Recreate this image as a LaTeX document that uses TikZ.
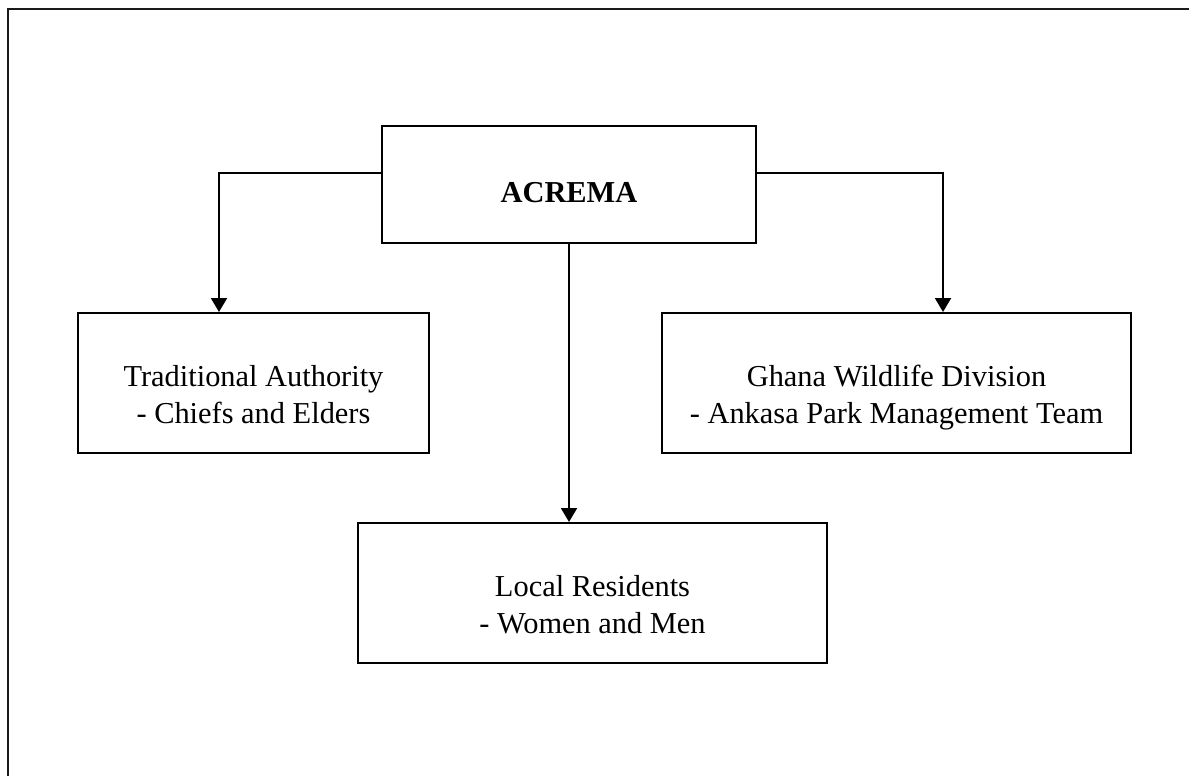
\documentclass[tikz,border=0pt]{standalone}
\usepackage{fontspec}
\setmainfont{Liberation Serif}
\usepackage{xcolor}
\usepackage{tikz}
\usetikzlibrary{calc,arrows.meta}
\definecolor{ink}{HTML}{000000}
\definecolor{frame}{HTML}{1A1A1A}
\newcommand{\pxl}{0.3947pt}
\newcommand{\topgap}{\rule{0pt}{21.7pt}}
\newcommand{\capgap}{\rule{0pt}{14pt}}
\tikzset{
  unitbox/.style={draw=ink, line width=0.8pt, align=center, inner sep=0pt,
    font=\fontsize{12pt}{14.5pt}\selectfont},
  link/.style={draw=ink, line width=0.8pt, -{Triangle[width=6.3pt,length=5.5pt]}},
  border/.style={draw=frame, line width=1pt},
}
\begin{document}
\begin{tikzpicture}[x=0.3947pt, y=-0.3947pt]
  \useasboundingbox (0,0) rectangle (1189,776);
  \draw[border] (8,776) -- (8,9) -- (1189,9);
  \node[unitbox, minimum width=374*\pxl, minimum height=117*\pxl] (acrema) at (569,184.5) {\capgap\textbf{ACREMA}};
  \node[unitbox, minimum width=351*\pxl, minimum height=140*\pxl] (trad) at (253.5,383) {\topgap Traditional Authority\\- Chiefs and Elders\strut};
  \node[unitbox, minimum width=469*\pxl, minimum height=140*\pxl] (ghana) at (896.5,383) {\topgap Ghana Wildlife Division\\- Ankasa Park Management Team\strut};
  \node[unitbox, minimum width=469*\pxl, minimum height=140*\pxl] (local) at (592.5,593) {\topgap Local Residents\\- Women and Men\strut};
  \coordinate (lk) at (219,173);
  \coordinate (rk) at (943,173);
  \draw[link] (acrema.west |- lk) -- (lk) -- (lk |- trad.north);
  \draw[link] (acrema.east |- rk) -- (rk) -- (rk |- ghana.north);
  \draw[link] (acrema.south) -- (acrema.south |- local.north);
\end{tikzpicture}
\end{document}
